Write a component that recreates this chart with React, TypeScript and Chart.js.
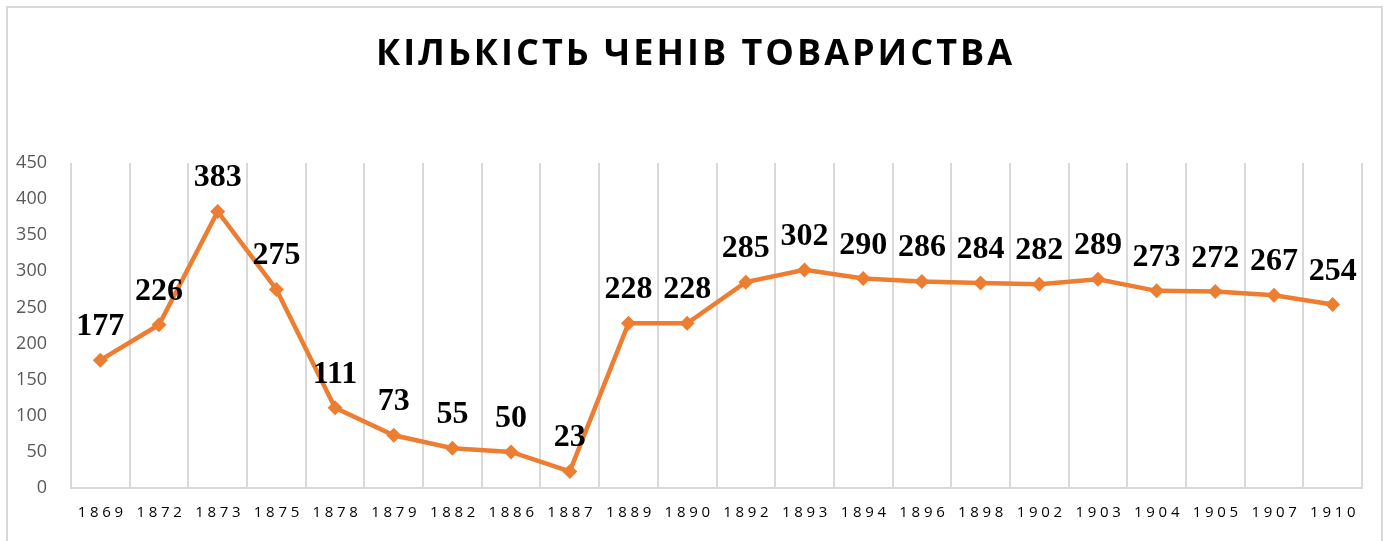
import React, { useEffect, useRef } from "react";
import { Chart, registerables } from "chart.js";

Chart.register(...registerables);

const TITLE = "КІЛЬКІСТЬ ЧЕНІВ ТОВАРИСТВА";
const YEARS = ["1869","1872","1873","1875","1878","1879","1882","1886","1887","1889","1890","1892","1893","1894","1896","1898","1902","1903","1904","1905","1907","1910"];
const MEMBERS = [177,226,383,275,111,73,55,50,23,228,228,285,302,290,286,284,282,289,273,272,267,254];
const Y_MIN = 0;
const Y_MAX = 450;
const Y_STEP = 50;

const ORANGE = "#ED7D31";
const GRID = "#D9D9D9";

const decorPlugin = {
  id: "decor",
  beforeDraw(chart: any) {
    const ctx = chart.ctx;
    ctx.save();
    ctx.fillStyle = "#ffffff";
    ctx.fillRect(0, 0, chart.width, chart.height);
    ctx.strokeStyle = GRID;
    ctx.lineWidth = 2;
    ctx.strokeRect(7, 7, chart.width - 14, chart.height + 20);
    // title
    ctx.fillStyle = "#000000";
    ctx.font = "bold 36px 'Open Sans'";
    (ctx as any).letterSpacing = "3px";
    ctx.textAlign = "center";
    ctx.textBaseline = "middle";
    ctx.fillText(TITLE, chart.width / 2 + 1, 55);
    ctx.restore();
  },
  afterDraw(chart: any) {
    const ctx = chart.ctx;
    const xs = chart.scales.x;
    ctx.save();
    ctx.fillStyle = "#000000";
    ctx.font = "15px 'Open Sans'";
    (ctx as any).letterSpacing = "3.7px";
    ctx.textAlign = "center";
    ctx.textBaseline = "middle";
    YEARS.forEach((y, i) => {
      ctx.fillText(y, xs.getPixelForTick(i) + 2, chart.chartArea.bottom + 25);
    });
    ctx.restore();
  },
  afterDatasetsDraw(chart: any) {
    const ctx = chart.ctx;
    const meta = chart.getDatasetMeta(0);
    ctx.save();
    ctx.fillStyle = "#000000";
    ctx.font = "bold 32px 'Liberation Serif'";
    ctx.textAlign = "center";
    ctx.textBaseline = "alphabetic";
    meta.data.forEach((pt: any, i: number) => {
      ctx.fillText(String(MEMBERS[i]), pt.x, pt.y - 25);
    });
    ctx.restore();
  },
};

export default function App() {
  const ref = useRef<HTMLCanvasElement>(null);
  useEffect(() => {
    if (!ref.current) return;
    const chart = new Chart(ref.current, {
      type: "line",
      data: {
        labels: YEARS,
        datasets: [
          {
            data: MEMBERS,
            borderColor: ORANGE,
            backgroundColor: ORANGE,
            borderWidth: 4.5,
            pointStyle: "rectRot",
            pointRadius: 7.5,
            pointHoverRadius: 7.5,
            pointBorderWidth: 0,
            tension: 0,
          },
        ],
      },
      options: {
        animation: false,
        responsive: false,
        events: [],
        layout: { padding: { left: 0, right: 27, top: 163, bottom: 0 } },
        plugins: { legend: { display: false }, title: { display: false }, tooltip: { enabled: false } },
        scales: {
          x: {
            offset: true,
            grid: { offset: true, color: GRID, lineWidth: 2, drawTicks: false },
            border: { display: true, color: GRID, width: 2 },
            ticks: { display: false, autoSkip: false },
            afterFit: (s: any) => { s.height = 53; },
          },
          y: {
            min: Y_MIN,
            max: Y_MAX,
            grid: { display: false, drawTicks: false },
            border: { display: false },
            ticks: {
              stepSize: Y_STEP,
              color: "#595959",
              font: { family: "'Open Sans'", size: 18 },
              padding: 24,
            },
            afterFit: (s: any) => { s.width = 71; },
          },
        },
      },
      plugins: [decorPlugin],
    });
    return () => chart.destroy();
  }, []);
  return (
    <div style={{ position: "absolute", left: 0, top: 0, width: 1389, height: 541 }}>
      <canvas ref={ref} width={1389} height={541} style={{ width: 1389, height: 541, display: "block" }} />
    </div>
  );
}
